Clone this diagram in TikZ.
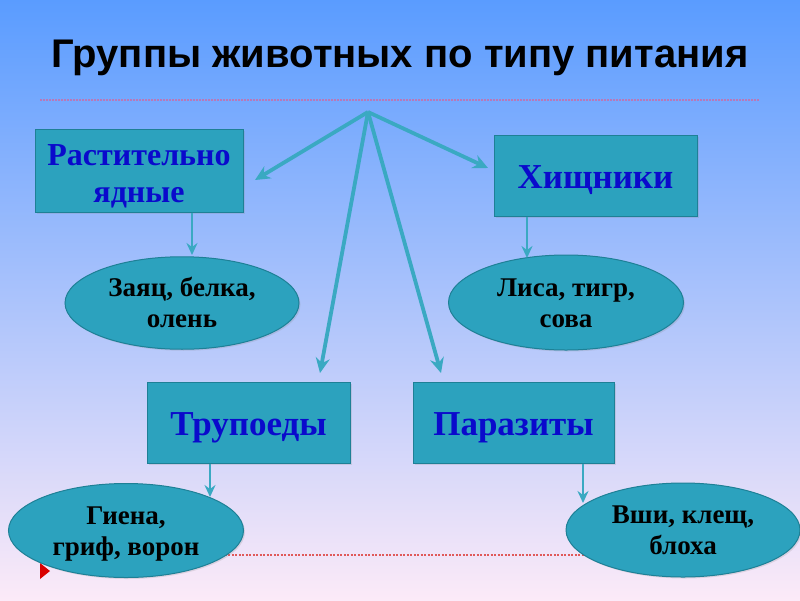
\documentclass[tikz,border=0pt]{standalone}
\usepackage{fontspec}
\setmainfont{Liberation Serif}
\newfontfamily\arialfont{Liberation Sans}
\usetikzlibrary{arrows.meta,shapes.geometric,shadows}
\definecolor{bgtop}{HTML}{5A9CFF}
\definecolor{bgmid}{HTML}{A6CEF6}
\definecolor{bgbot}{HTML}{FCEAF8}
\definecolor{tealfill}{HTML}{2CA2BE}
\definecolor{tealedge}{HTML}{1E8096}
\definecolor{arrowteal}{HTML}{3AA9C2}
\definecolor{boxtext}{HTML}{0A0ACC}
\definecolor{dotpurple}{HTML}{B878B8}
\definecolor{dotred}{HTML}{E05A5A}
\newcommand\ellup{\rule{0pt}{26.4pt}}
\newcommand\elldn{\rule[-8pt]{0pt}{8pt}}
\newcommand\boxst{\rule[-10pt]{0pt}{46.2pt}}
\newcommand\rup{\rule{0pt}{35.5pt}}
\tikzset{
  groupbox/.style={draw=tealedge, line width=1pt, fill=tealfill, rectangle, inner sep=0pt,
    align=center, text=boxtext, font=\fontsize{35}{40}\selectfont\bfseries,
    drop shadow={opacity=0.2, shadow xshift=1.5pt, shadow yshift=-1.5pt}},
  animals/.style={draw=tealedge, line width=1pt, fill=tealfill, ellipse, inner sep=0pt,
    align=center, text=black, font=\fontsize{27}{31}\selectfont\bfseries,
    drop shadow={opacity=0.2, shadow xshift=1.5pt, shadow yshift=-1.5pt}},
  bigarrow/.style={draw=arrowteal, line width=3.8pt,
    -{Stealth[length=15pt,width=14pt,inset=5pt]}},
  downarrow/.style={draw=arrowteal, line width=2.6pt,
    -{Stealth[length=12pt,width=11pt,inset=4pt]}},
}
\begin{document}
\begin{tikzpicture}[x=1pt,y=-1pt]
\useasboundingbox (0pt,0pt) rectangle (800pt,-600pt);
\shade[top color=bgtop, middle color=bgmid, bottom color=bgbot] (0pt,0pt) rectangle (800pt,-600pt);

\node[font=\arialfont\bfseries\fontsize{40}{44}\selectfont, text=black] (title) at (400,58) {Группы животных по типу питания};

\coordinate (topL) at (40,100);
\coordinate (topR) at (760,100);
\draw[dotpurple, line width=1.2pt, dash pattern=on 1.5pt off 1.5pt] (topL) -- (topR);

\coordinate (botL) at (200,555);
\coordinate (botR) at (600,555);
\draw[dotred, line width=1.2pt, dash pattern=on 2pt off 1.5pt] (botL) -- (botR);
\fill[red!85!black] (40,563) -- (50,571) -- (40,579) -- cycle;

\node[groupbox, minimum width=208, minimum height=83, font=\fontsize{32}{37}\selectfont\bfseries] (R) at (139,170.5) {\rup Растительно\\ядные\elldn};
\node[groupbox, minimum width=203, minimum height=81] (H) at (595.5,175.5) {\boxst Хищники};
\node[groupbox, minimum width=203, minimum height=81] (T) at (248.5,422.5) {\boxst Трупоеды};
\node[groupbox, minimum width=201, minimum height=81] (P) at (513.5,422.5) {\boxst Паразиты};

\node[animals, minimum width=234, minimum height=92] (Z) at (182,303) {\ellup Заяц, белка,\\олень\elldn};
\node[animals, minimum width=235, minimum height=95] (L) at (566,302.5) {\ellup Лиса, тигр,\\сова\elldn};
\node[animals, minimum width=235, minimum height=94] (G) at (126,530.5) {\ellup Гиена,\\гриф, ворон\elldn};
\node[animals, minimum width=234, minimum height=94] (V) at (683,530) {\ellup Вши, клещ,\\блоха\elldn};

\coordinate (apex) at (368,112);
\coordinate (tipR) at (255,180);
\coordinate (tipH) at (488,168);
\coordinate (tipT) at (320,373);
\coordinate (tipP) at (441,373);
\draw[bigarrow] (apex) -- (tipR);
\draw[bigarrow] (apex) -- (tipH);
\draw[bigarrow] (apex) -- (tipT);
\draw[bigarrow] (apex) -- (tipP);

\coordinate (tipZ) at (192,255);
\coordinate (tipL) at (527,258);
\coordinate (tipG) at (210,497);
\coordinate (tipV) at (583,503);
\draw[downarrow] (R.south -| tipZ) -- (tipZ);
\draw[downarrow] (H.south -| tipL) -- (tipL);
\draw[downarrow] (T.south -| tipG) -- (tipG);
\draw[downarrow] (P.south -| tipV) -- (tipV);
\end{tikzpicture}
\end{document}
